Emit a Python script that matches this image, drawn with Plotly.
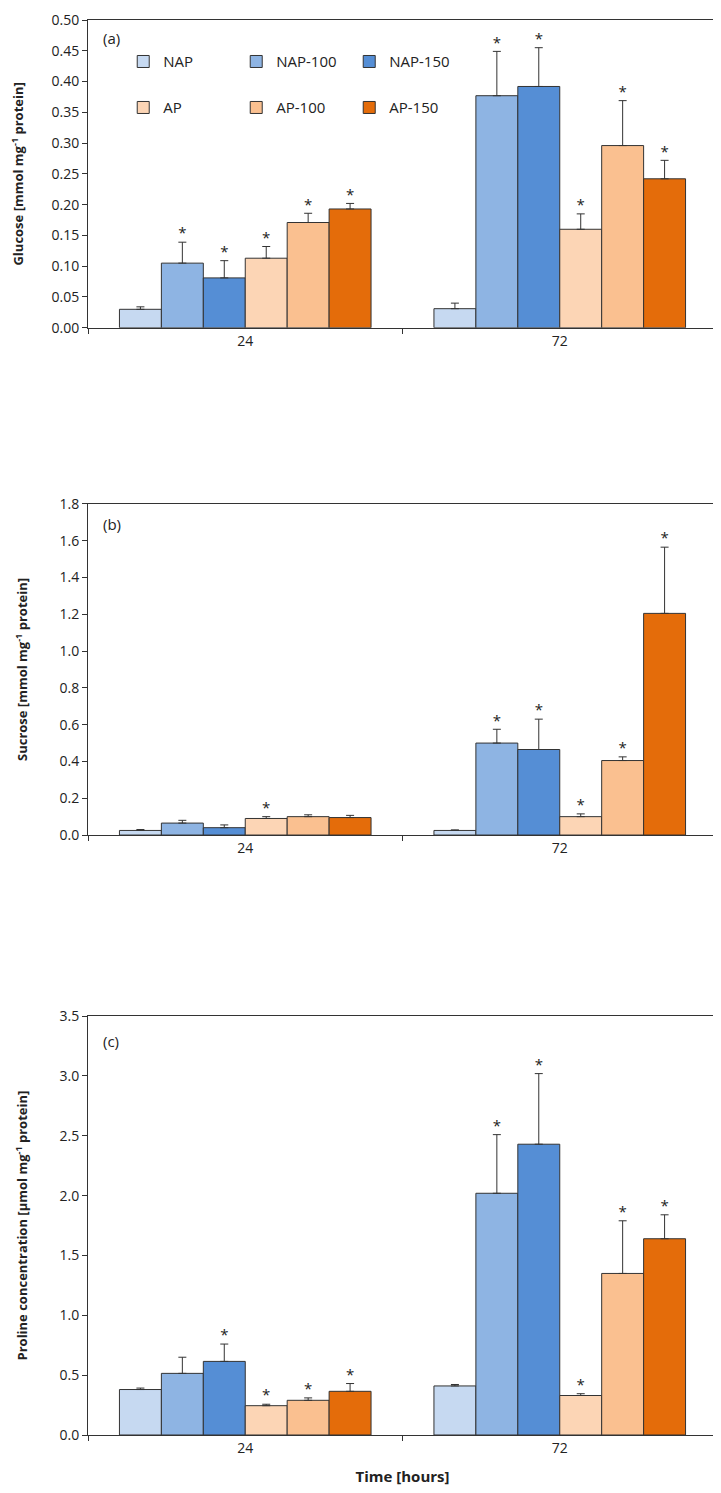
import plotly.graph_objects as go
from plotly.subplots import make_subplots

# Categories and series
times = ["24", "72"]
series = ["NAP", "NAP-100", "NAP-150", "AP", "AP-100", "AP-150"]
colors = ["#C6D9F1", "#8EB4E3", "#558ED5", "#FCD5B5", "#FAC090", "#E46C0A"]

# (a) Glucose  [mean, SE] per series at 24 h and 72 h
glucose_mean = {
    "NAP": [0.030, 0.031], "NAP-100": [0.105, 0.377], "NAP-150": [0.081, 0.392],
    "AP": [0.113, 0.160], "AP-100": [0.171, 0.296], "AP-150": [0.193, 0.242],
}
glucose_err = {
    "NAP": [0.004, 0.009], "NAP-100": [0.034, 0.072], "NAP-150": [0.028, 0.063],
    "AP": [0.019, 0.025], "AP-100": [0.015, 0.073], "AP-150": [0.009, 0.030],
}
glucose_sig = {
    "NAP": [0, 0], "NAP-100": [1, 1], "NAP-150": [1, 1],
    "AP": [1, 1], "AP-100": [1, 1], "AP-150": [1, 1],
}

# (b) Sucrose
sucrose_mean = {
    "NAP": [0.025, 0.025], "NAP-100": [0.065, 0.500], "NAP-150": [0.040, 0.465],
    "AP": [0.090, 0.100], "AP-100": [0.100, 0.405], "AP-150": [0.095, 1.205],
}
sucrose_err = {
    "NAP": [0.005, 0.003], "NAP-100": [0.015, 0.075], "NAP-150": [0.015, 0.165],
    "AP": [0.010, 0.015], "AP-100": [0.010, 0.020], "AP-150": [0.012, 0.360],
}
sucrose_sig = {
    "NAP": [0, 0], "NAP-100": [0, 1], "NAP-150": [0, 1],
    "AP": [1, 1], "AP-100": [0, 1], "AP-150": [0, 1],
}

# (c) Proline
proline_mean = {
    "NAP": [0.380, 0.410], "NAP-100": [0.515, 2.020], "NAP-150": [0.615, 2.430],
    "AP": [0.245, 0.330], "AP-100": [0.290, 1.350], "AP-150": [0.365, 1.640],
}
proline_err = {
    "NAP": [0.012, 0.012], "NAP-100": [0.135, 0.490], "NAP-150": [0.145, 0.590],
    "AP": [0.012, 0.015], "AP-100": [0.020, 0.440], "AP-150": [0.065, 0.200],
}
proline_sig = {
    "NAP": [0, 0], "NAP-100": [0, 1], "NAP-150": [1, 1],
    "AP": [1, 1], "AP-100": [1, 1], "AP-150": [1, 1],
}

panels = [
    ("(a)", glucose_mean, glucose_err, glucose_sig,
     "<b>Glucose [mmol mg<sup>-1</sup> protein]</b>", [0, 0.5], 0.05, ".2f"),
    ("(b)", sucrose_mean, sucrose_err, sucrose_sig,
     "<b>Sucrose [mmol mg<sup>-1</sup> protein]</b>", [0, 1.8], 0.2, ".1f"),
    ("(c)", proline_mean, proline_err, proline_sig,
     "<b>Proline concentration [µmol mg<sup>-1</sup> protein]</b>", [0, 3.5], 0.5, ".1f"),
]

FONT = "Open Sans, sans-serif"
EDGE = "#333333"

fig = make_subplots(rows=3, cols=1, vertical_spacing=0.1)

for row, (tag, means, errs, sigs, ytitle, yrange, dtick, fmt) in enumerate(panels, start=1):
    for i, (name, col) in enumerate(zip(series, colors)):
        fig.add_trace(
            go.Bar(
                x=times, y=means[name], name=name,
                marker=dict(color=col, line=dict(color=EDGE, width=1)),
                error_y=dict(type="data", array=errs[name], symmetric=False,
                             arrayminus=[0, 0], color=EDGE, thickness=1, width=4),
                showlegend=(row == 1),
                legend="legend" if i < 3 else "legend2",
            ),
            row=row, col=1,
        )
    # significance asterisks above the error bars; non-significant points left blank (None)
    for name in series:
        fig.add_trace(
            go.Scatter(
                x=times,
                y=[m + e if s else None for m, e, s in zip(means[name], errs[name], sigs[name])],
                text="*",
                mode="text", textposition="top center",
                textfont=dict(size=15, color="#222", family=FONT),
                showlegend=False, hoverinfo="skip",
            ),
            row=row, col=1,
        )
    fig.update_yaxes(
        title=dict(text=ytitle, font=dict(size=13, family=FONT), standoff=28),
        range=yrange, dtick=dtick, tickformat=fmt, tickfont=dict(size=14),
        showline=True, linecolor=EDGE, linewidth=1, mirror=True,
        ticks="outside", ticklen=5, tickcolor=EDGE, showgrid=False, zeroline=False,
        row=row, col=1,
    )
    fig.update_xaxes(
        showline=True, linecolor=EDGE, linewidth=1, mirror=True, tickfont=dict(size=14),
        ticks="outside", tickson="boundaries", ticklen=5, tickcolor=EDGE,
        showgrid=False, row=row, col=1,
    )
    fig.add_annotation(
        text=tag, xref=f"x{'' if row == 1 else row} domain", yref=f"y{'' if row == 1 else row} domain",
        x=0.02, y=0.94, xanchor="left", yanchor="middle", showarrow=False,
        font=dict(size=15, family=FONT, color="#222"),
    )

fig.update_xaxes(title=dict(text="<b>Time [hours]</b>", font=dict(size=15, family=FONT)), row=3, col=1)

# panel domains
fig.update_layout(
    yaxis=dict(domain=[0.7825, 1.0]),
    yaxis2=dict(domain=[0.424, 0.658]),
    yaxis3=dict(domain=[0.0, 0.296]),
)

legend_style = dict(
    orientation="h", xanchor="left", yanchor="middle", x=0.056,
    entrywidth=68, entrywidthmode="pixels", bgcolor="rgba(0,0,0,0)",
    font=dict(size=15, family=FONT, color="#222"), itemclick=False,
)

fig.update_layout(
    width=713, height=1485,
    template="simple_white",
    barmode="group", bargap=0.2, bargroupgap=0,
    scattermode="group", scattergap=0.2,
    plot_bgcolor="white", paper_bgcolor="white",
    font=dict(family=FONT, size=13, color="#222"),
    margin=dict(l=80, r=4, t=2, b=58),
    legend=dict(y=0.9705, **legend_style),
    legend2=dict(y=0.938, **legend_style),
)

fig.write_html("out.html")
